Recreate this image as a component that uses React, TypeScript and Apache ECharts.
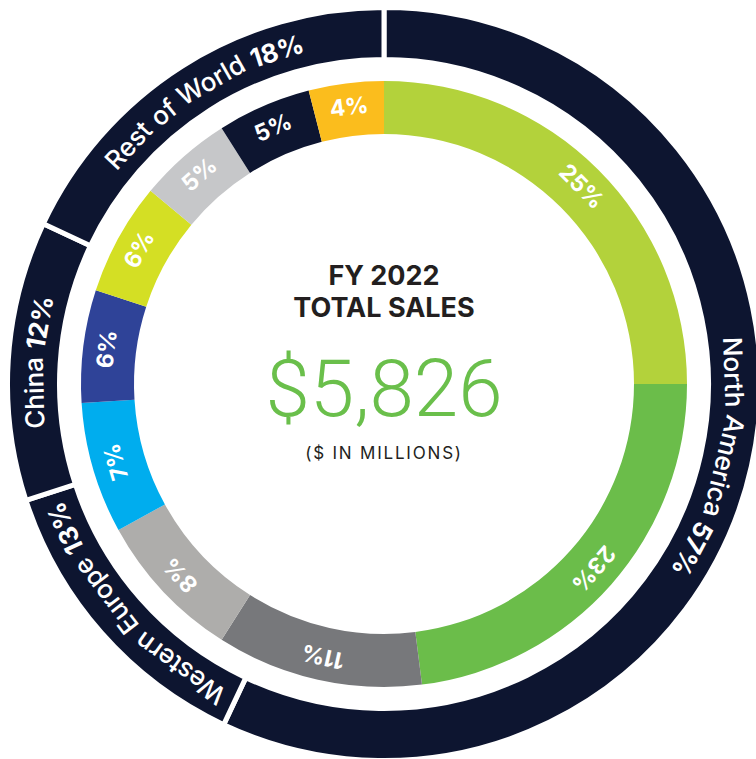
import React, { useEffect, useRef } from "react";
import * as echarts from "echarts";

// ---- Data ----
const innerValues = [25, 23, 11, 8, 7, 6, 6, 5, 5, 4];
const innerColors = ["#b3d23b", "#6bbd4a", "#77787b", "#aeadab", "#00adee", "#2f4398", "#d4df24", "#c6c7c9", "#0d1530", "#fbbd1d"];
const regionNames = ["North America", "Western Europe", "China", "Rest of World"];
const regionValues = [57, 13, 12, 18];
const titleLines = ["FY 2022", "TOTAL SALES"];
const totalText = "$5,826";
const unitText = "($ IN MILLIONS)";

const NAVY = "#0d1530";
const CX = 384;
const CY = 384;

export default function App() {
  const ref = useRef<HTMLDivElement>(null);
  useEffect(() => {
    if (!ref.current) return;
    const chart = echarts.init(ref.current, undefined, { renderer: "svg" });

    const innerTotal = innerValues.reduce((a, b) => a + b, 0);
    let cum = 0;
    const innerData = innerValues.map((v, i) => {
      const mid = ((cum + v / 2) / innerTotal) * 360;
      cum += v;
      return {
        value: v,
        name: `${v}%`,
        itemStyle: { color: innerColors[i] },
        label: { rotate: -mid },
      };
    });

    const regionTotal = regionValues.reduce((a, b) => a + b, 0);
    const outerData = regionValues.map((v, i) => ({
      value: v,
      name: regionNames[i],
      itemStyle: { color: NAVY },
    }));

    // curved labels on outer ring, word by word
    const canvas = document.createElement("canvas");
    const ctx = canvas.getContext("2d")!;
    const measure = (t: string, f: string) => {
      ctx.font = f;
      return ctx.measureText(t).width;
    };
    const regFont = "500 26px Inter";
    const boldFont = "bold 26px Inter";
    const rText = 350;
    const graphics: any[] = [];
    let rc = 0;
    regionValues.forEach((v, i) => {
      const midRad = (((rc + v / 2) / regionTotal) * 360 * Math.PI) / 180;
      rc += v;
      const words = regionNames[i].split(" ").map((w) => ({ text: w, font: regFont }));
      words.push({ text: `${v}%`, font: boldFont });
      const widths = words.map((w) => measure(w.text, w.font));
      const space = measure(" ", regFont) * 1.15;
      const total = widths.reduce((a, b) => a + b, 0) + space * (words.length - 1);
      let offset = 0;
      const start = midRad - total / 2 / rText;
      words.forEach((w, k) => {
        const a = start + (offset + widths[k] / 2) / rText;
        offset += widths[k] + space;
        graphics.push({
          type: "text",
          x: CX + rText * Math.sin(a),
          y: CY - rText * Math.cos(a),
          rotation: -a,
          z: 100,
          silent: true,
          style: {
            text: w.text,
            font: w.font,
            fill: "#ffffff",
            align: "center",
            verticalAlign: "middle",
            textAlign: "center",
            textVerticalAlign: "middle",
          },
        });
      });
    });

    const centerText = (text: string, y: number, font: string, fill: string) => ({
      type: "text",
      x: CX,
      y,
      z: 100,
      silent: true,
      style: {
        text,
        font,
        fill,
        align: "center",
        verticalAlign: "middle",
        textAlign: "center",
        textVerticalAlign: "middle",
      },
    });
    graphics.push(centerText(titleLines[0], 275, "bold 27px Inter", "#231f20"));
    graphics.push(centerText(titleLines[1], 307, "bold 27px Inter", "#231f20"));
    graphics.push(centerText(totalText, 389, "300 80px Roboto", "#6abf4b"));
    graphics.push(centerText(unitText, 453, "17px Inter", "#231f21"));

    chart.setOption({
      animation: false,
      graphic: { elements: graphics },
      series: [
        {
          type: "pie",
          center: [CX, CY],
          radius: [250, 303],
          startAngle: 90,
          clockwise: true,
          silent: true,
          avoidLabelOverlap: false,
          label: {
            show: true,
            position: "inside",
            formatter: "{b}",
            color: "#ffffff",
            fontFamily: "Inter",
            fontWeight: "bold",
            fontSize: 23,
          },
          labelLine: { show: false },
          data: innerData,
        },
        {
          type: "pie",
          center: [CX, CY],
          radius: [324.5, 376.5],
          startAngle: 90,
          clockwise: true,
          silent: true,
          itemStyle: { borderColor: "#ffffff", borderWidth: 5 },
          label: { show: false },
          labelLine: { show: false },
          data: outerData,
        },
      ],
    });
    return () => chart.dispose();
  }, []);
  return (
    <>
      <style>{`text[fill="#231f21"], text[fill="rgb(35,31,33)"] { letter-spacing: 1.8px; }`}</style>
      <div
        ref={ref}
        style={{ position: "fixed", left: 0, top: 0, width: 756, height: 759, background: "#ffffff" }}
      />
    </>
  );
}
